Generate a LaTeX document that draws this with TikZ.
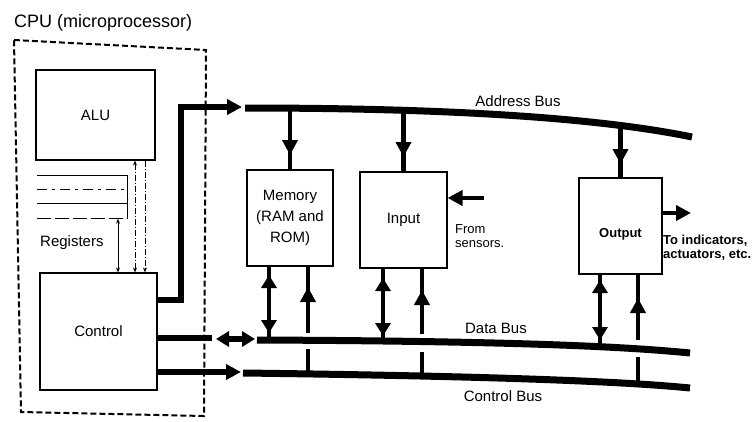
\documentclass[tikz,border=0pt]{standalone}
\usepackage{fontspec}
\setmainfont{Liberation Sans}
\usetikzlibrary{arrows.meta}
\begin{document}
\begin{tikzpicture}[x=1pt,y=-1pt,
 box/.style={draw,line width=1.1pt,inner sep=0pt,align=center,font=\fontsize{15}{21}\selectfont},
 lbl/.style={inner sep=0pt,font=\fontsize{15}{18}\selectfont},
 bus/.style={line width=7pt},
 fat/.style={line width=6pt},
 vl/.style={line width=4.5pt},
 hd/.style={-{Triangle[width=15pt,length=15pt]}},
 dhd/.style={{Triangle[width=15pt,length=13pt]}-{Triangle[width=15pt,length=13pt]}},
 thinl/.style={line width=0.9pt},
 dd/.style={dash pattern=on 6pt off 2pt on 1pt off 2pt},
 smd/.style={{Stealth[length=5pt,width=4pt]}-{Stealth[length=5pt,width=4pt]}},
 sm/.style={-{Stealth[length=5pt,width=4pt]}},
]
\useasboundingbox (0,0) rectangle (756,421);

% CPU
\node[lbl,anchor=west,font=\fontsize{18}{20}\selectfont] (cputitle) at (14,23) {CPU (microprocessor)};
\draw[line width=2pt,dash pattern=on 6pt off 3pt] (14,40) -- (206,50) -- (204,416) -- (21,412) -- cycle;

\node[box,minimum width=119pt,minimum height=90pt] (alu) at (95.5,115) {ALU};
\node[inner sep=0pt,minimum width=90pt,minimum height=43pt] (regs) at (82,197) {};
\draw[thinl] (regs.north west) -- (regs.north east) -- (regs.south east);
\draw[thinl,dash pattern=on 10pt off 5pt on 3pt off 5pt] ([yshift=-14pt]regs.north west) -- ([yshift=-14pt]regs.north east);
\draw[thinl] ([yshift=-28pt]regs.north west) -- ([yshift=-28pt]regs.north east);
\draw[thinl,dash pattern=on 14pt off 4pt] (regs.south west) -- (regs.south east);
\node[lbl,anchor=west] (regtext) at (40,243) {Registers};
\node[box,minimum width=117pt,minimum height=117pt] (ctrl) at (98.5,331.5) {Control};

\draw[thinl,smd] (118,0 |- regs.south) -- (118,0 |- ctrl.north);
\draw[thinl,dd,smd] (135,0 |- alu.south) -- (135,0 |- ctrl.north);
\draw[thinl,dd,sm] (145,0 |- alu.south) -- (145,0 |- ctrl.north);

% boxes
\node[box,minimum width=86pt,minimum height=96pt] (mem) at (290,218) {Memory\\(RAM and\\ROM)};
\node[box,minimum width=87pt,minimum height=96pt] (inp) at (403.5,220) {Input};
\node[box,minimum width=83pt,minimum height=96pt,font=\fontsize{13}{16}\selectfont\bfseries] (out) at (620.5,226) {\raisebox{-11pt}[0pt][0pt]{Output}};

% address bus
\coordinate (abs) at (245,108);
\coordinate (abe) at (692,137);
\coordinate (abtip) at (242,107);
\draw[fat,hd] (ctrl.east |- 0,300) -- (181,300) -- (181,107) -- (abtip);
\draw[bus] (abs) .. controls (450,108) and (600,118) .. (abe);
\node[lbl] (abl) at (518,101) {Address Bus};

% data bus
\coordinate (dbs) at (257,340);
\coordinate (dbe) at (690,353);
\coordinate (dl) at (212,338);
\coordinate (da1) at (216,339);
\coordinate (da2) at (255,339);
\draw[bus] (dbs) .. controls (500,341) and (620,346) .. (dbe);
\draw[fat] (ctrl.east |- dl) -- (dl);
\draw[fat,dhd] (da1) -- (da2);
\node[lbl] (dbl) at (496,328) {Data Bus};

% control bus
\coordinate (cbs) at (243,373);
\coordinate (cbe) at (690,388);
\coordinate (cbtip) at (241,372);
\draw[bus] (cbs) .. controls (480,376) and (620,381) .. (cbe);
\draw[fat,hd] (ctrl.east |- cbtip) -- (cbtip);
\node[lbl] (cbl) at (503,396) {Control Bus};

% address -> boxes
\draw[vl] (290,108) -- (mem.north);
\draw[vl,hd] (290,108) -- (290,155);
\draw[vl] (403.5,109) -- (inp.north);
\draw[vl,hd] (403.5,109) -- (403.5,157);
\draw[vl] (620.5,125) -- (out.north);
\draw[vl,hd] (620.5,125) -- (620.5,164);

% memory <-> buses
\draw[vl] (269,0 |- mem.south) -- (269,340);
\draw[vl,dhd] (269,275) -- (269,333);
\draw[vl] (308,375) -- (308,349);
\draw[vl] (308,333) -- (308,0 |- mem.south);
\draw[vl,hd] (308,333) -- (308,287);

% input <-> buses
\draw[vl] (383,0 |- inp.south) -- (383,341);
\draw[vl,dhd] (383,278) -- (383,336);
\draw[vl] (422,377) -- (422,352);
\draw[vl] (422,334) -- (422,0 |- inp.south);
\draw[vl,hd] (422,334) -- (422,290);

% output <-> buses
\draw[vl] (600,0 |- out.south) -- (600,345);
\draw[vl,dhd] (600,280) -- (600,340);
\draw[vl] (638,381) -- (638,357);
\draw[vl] (638,340) -- (638,0 |- out.south);
\draw[vl,hd] (638,340) -- (638,298);

% sensors
\coordinate (sens) at (484,198);
\draw[vl,hd] (sens) -- (inp.east |- sens);
\node[inner sep=0pt,anchor=west,align=left,font=\fontsize{13}{14}\selectfont] (senst) at (455,236.5) {From\\sensors.};

% indicators
\coordinate (ind) at (691,213);
\draw[vl,hd] (out.east |- ind) -- (ind);
\node[inner sep=0pt,anchor=west,align=left,font=\fontsize{13}{14}\selectfont\bfseries] (indt) at (663,248) {To indicators,\\actuators, etc.};
\end{tikzpicture}
\end{document}
